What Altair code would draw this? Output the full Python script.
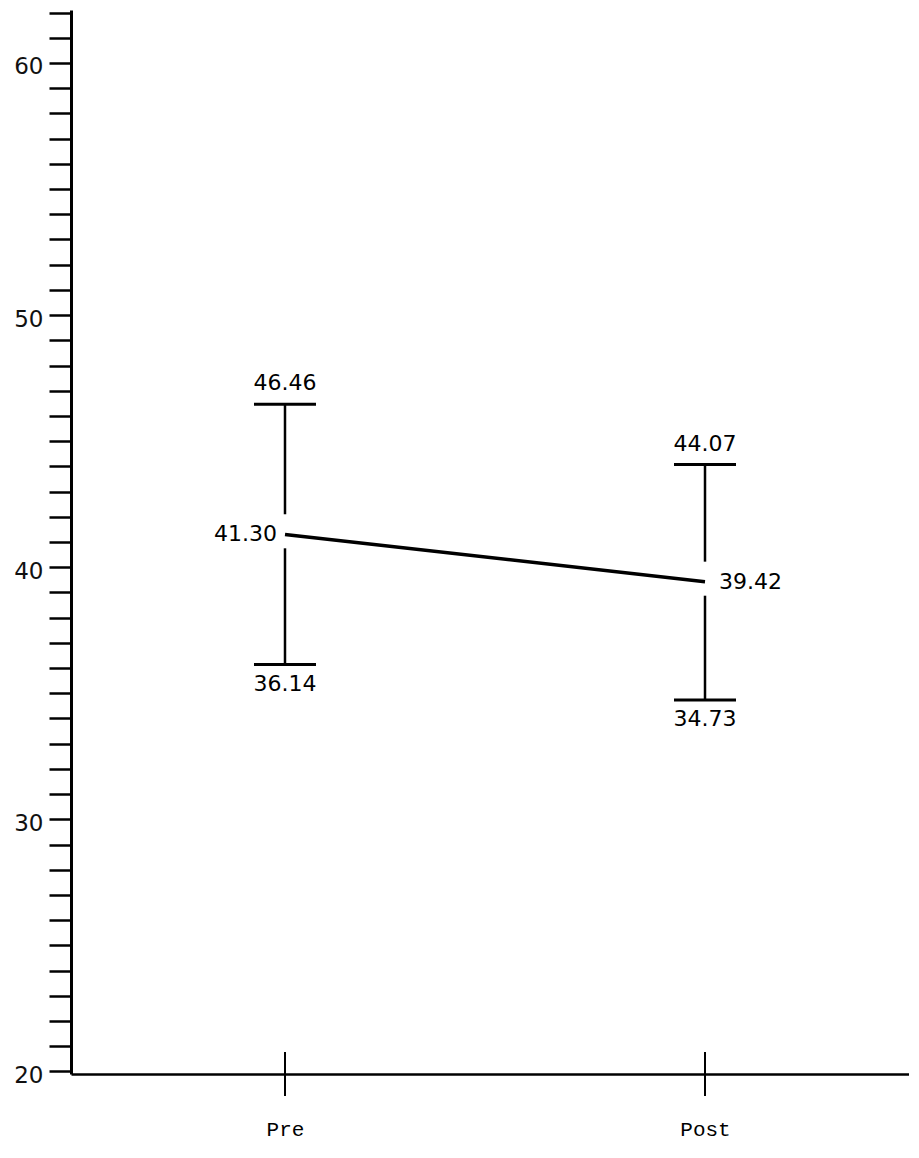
import altair as alt
import pandas as pd

# ---- data ----
phases = ["Pre", "Post"]
means = [41.30, 39.42]
upper_limits = [46.46, 44.07]
lower_limits = [36.14, 34.73]
mean_text = ["41.30", "39.42"]
upper_text = ["46.46", "44.07"]
lower_text = ["36.14", "34.73"]
y_tick_values = list(range(20, 63))
y_label_values = [20, 30, 40, 50, 60]

Y_MIN, Y_MAX = 19.9, 62.1
X_MIN, X_MAX = -0.5095, 1.4857

df = pd.DataFrame({
    "phase": phases,
    "mean": means,
    "upper": upper_limits,
    "lower": lower_limits,
    "mean_text": mean_text,
    "upper_text": upper_text,
    "lower_text": lower_text,
})

x_scale = alt.Scale(domain=[X_MIN, X_MAX], nice=False, zero=False)
x_axis = alt.Axis(
    title=None, ticks=False, values=list(range(len(phases))),
    labelExpr=f"{phases}[datum.value]",
    labelAngle=0, labelPadding=44,
    labelFont="Liberation Mono", labelFontSize=21, labelColor="black",
    domainColor="black", domainWidth=2.5,
)
x_enc = alt.X("idx:Q", scale=x_scale, axis=x_axis)

y_scale = alt.Scale(domain=[Y_MIN, Y_MAX], nice=False, zero=False)
y_axis = alt.Axis(
    title=None, values=y_tick_values,
    labelExpr=f"indexof({y_label_values}, datum.value) >= 0 ? datum.label : ''",
    tickSize=22, tickWidth=2.5, tickColor="black",
    domainColor="black", domainWidth=3,
    labelFont="DejaVu Sans", labelFontSize=23, labelColor="#111",
    labelPadding=6, labelOffset=4,
)


def Y(field):
    return alt.Y(field, scale=y_scale, axis=y_axis)


base = alt.Chart(df).transform_calculate(
    idx=f"indexof({phases}, datum.phase)"
).encode(x=x_enc)

bar_up = base.mark_rule(color="black", strokeWidth=2.5).transform_calculate(
    top_end="datum.mean + 0.8"
).encode(y=Y("upper:Q"), y2="top_end:Q")

bar_down = base.mark_rule(color="black", strokeWidth=2.5).transform_calculate(
    bot_start="datum.mean - 0.55"
).encode(y=Y("bot_start:Q"), y2="lower:Q")

cap_style = dict(orient="horizontal", size=62, thickness=3, color="black", opacity=1)
cap_up = base.mark_tick(**cap_style).encode(y=Y("upper:Q"))
cap_down = base.mark_tick(**cap_style).encode(y=Y("lower:Q"))

mean_line = base.mark_line(color="black", strokeWidth=3.5).encode(y=Y("mean:Q"))

txt_style = dict(font="DejaVu Sans", fontSize=22, color="black")
t_up = base.mark_text(dy=-21, baseline="middle", align="center", **txt_style).encode(
    y=Y("upper:Q"), text="upper_text:N")
t_down = base.mark_text(dy=19, baseline="middle", align="center", **txt_style).encode(
    y=Y("lower:Q"), text="lower_text:N")
t_mean_pre = base.mark_text(dx=-8, baseline="middle", align="right", **txt_style).encode(
    y=Y("mean:Q"), text="mean_text:N").transform_filter(f"datum.phase == '{phases[0]}'")
t_mean_post = base.mark_text(dx=14, baseline="middle", align="left", **txt_style).encode(
    y=Y("mean:Q"), text="mean_text:N").transform_filter(f"datum.phase == '{phases[1]}'")

x_cross = base.mark_tick(orient="vertical", size=44, thickness=2, color="black", opacity=1).encode(
    y=alt.Y(datum=Y_MIN, scale=y_scale, axis=y_axis))

chart = alt.layer(
    x_cross, bar_up, bar_down, cap_up, cap_down, mean_line,
    t_up, t_down, t_mean_pre, t_mean_post,
).properties(
    width=838, height=1064,
    padding={"left": 5, "top": 2, "right": 0, "bottom": 6},
    background="white",
).configure_view(stroke=None).configure_axis(grid=False)

chart.save("out.html", embed_options={"renderer": "svg", "actions": False})
